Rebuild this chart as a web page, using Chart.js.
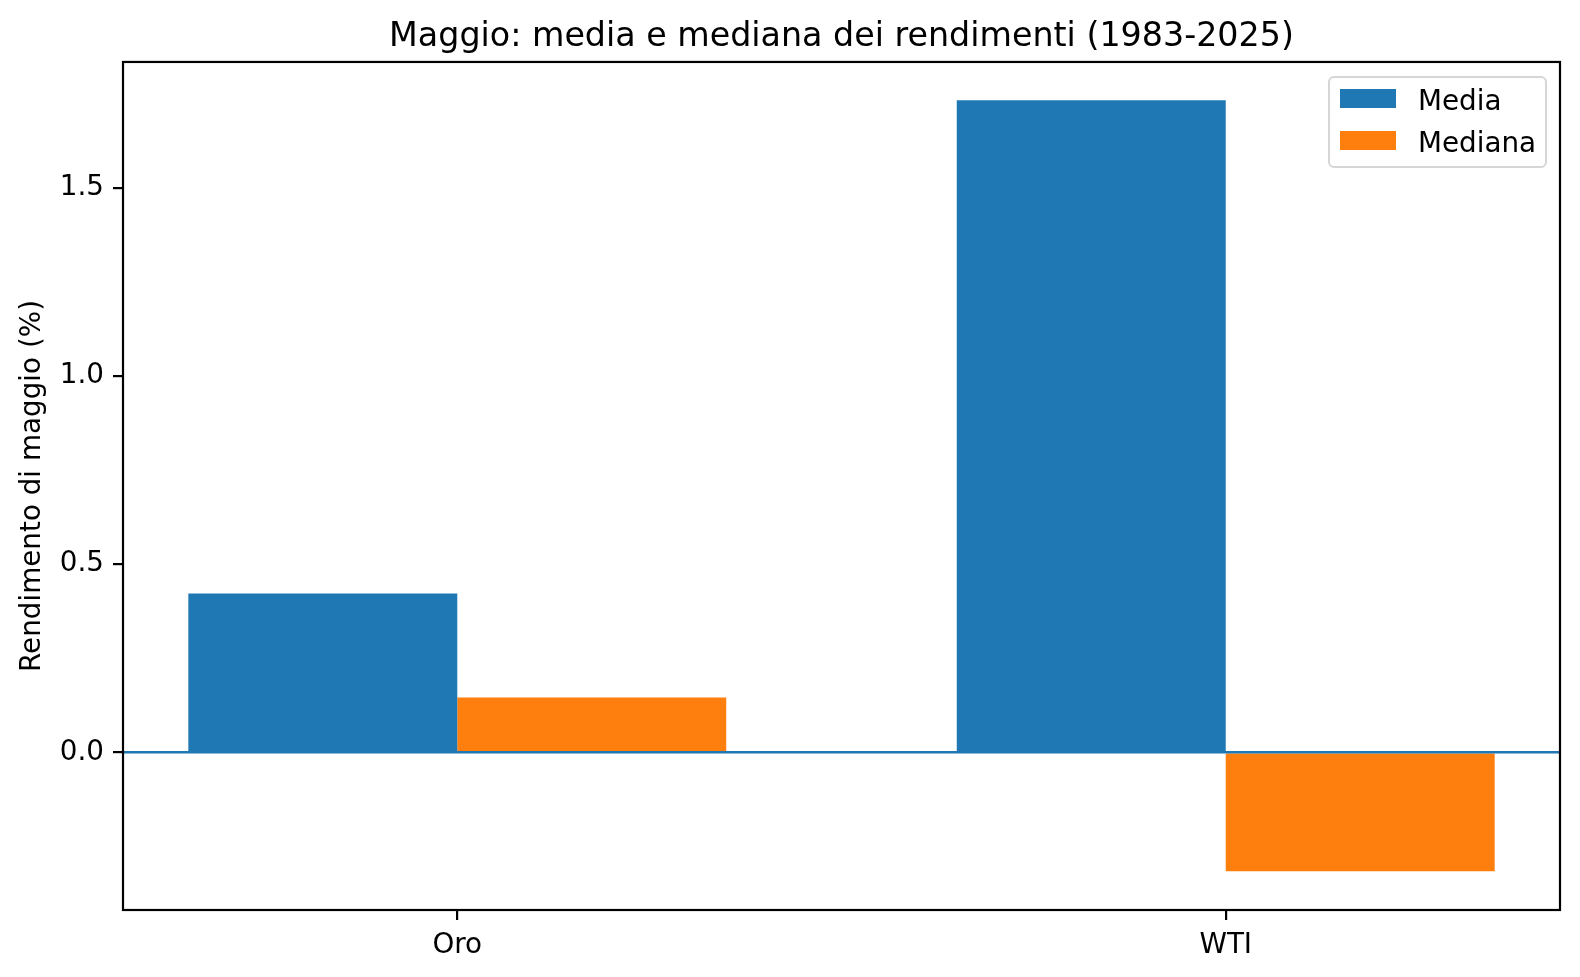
<!DOCTYPE html>
<html>
<head>
<meta charset="utf-8">
<script src="https://cdn.jsdelivr.net/npm/chart.js@4"></script>
<style>
  body { margin: 0; background: #fff; }
  #wrap { position: relative; width: 1580px; height: 977px; }
  #legend {
    position: absolute; left: 1328px; top: 76px; width: 215px; height: 88px;
    border: 2px solid #d6d6d6; border-radius: 6px; background: rgba(255,255,255,0.8);
    font-family: "DejaVu Sans", sans-serif; font-size: 27.8px; color: #000;
  }
  .item { position: absolute; left: 10px; height: 20px; }
  .swatch { position: absolute; left: 0; top: 0; width: 55.6px; height: 19.4px; }
  .label { position: absolute; left: 78px; top: -4px; white-space: nowrap; line-height: 31px; }
</style>
</head>
<body>
<div id="wrap">
  <canvas id="chart"></canvas>
  <div id="legend"></div>
</div>
<script>
const categories = ["Oro", "WTI"];
const media = [0.422, 1.733];
const mediana = [0.146, -0.316];
const seriesNames = ["Media", "Mediana"];
const seriesColors = ["#1f77b4", "#ff7f0e"];
const yTicks = [0, 0.5, 1.0, 1.5];

const FONT = "'DejaVu Sans', sans-serif";

function toPoints(values) {
  return values.map((v, i) => ({ x: i, y: v }));
}

const zeroLine = {
  id: "zeroLine",
  afterDatasetsDraw(chart) {
    const { ctx, chartArea } = chart;
    const y = chart.scales.y.getPixelForValue(0);
    ctx.save();
    ctx.strokeStyle = "#1f77b4";
    ctx.lineWidth = 2.5;
    ctx.beginPath();
    ctx.moveTo(chartArea.left, y);
    ctx.lineTo(chartArea.right, y);
    ctx.stroke();
    ctx.restore();
  },
};

const frame = {
  id: "frame",
  afterDraw(chart) {
    const { ctx, chartArea } = chart;
    ctx.save();
    ctx.strokeStyle = "#000";
    ctx.lineWidth = 2.2;
    ctx.strokeRect(chartArea.left, chartArea.top, chartArea.right - chartArea.left, chartArea.bottom - chartArea.top);
    ctx.restore();
  },
};

const chart = new Chart(document.getElementById("chart"), {
  type: "bar",
  data: {
    datasets: [
      { label: seriesNames[0], data: toPoints(media), backgroundColor: seriesColors[0], borderWidth: 0 },
      { label: seriesNames[1], data: toPoints(mediana), backgroundColor: seriesColors[1], borderWidth: 0 },
    ],
  },
  options: {
    responsive: true,
    maintainAspectRatio: false,
    animation: false,
    categoryPercentage: 0.7,
    barPercentage: 1.0,
    layout: { padding: { left: 0, right: 20, top: 0, bottom: 0 } },
    plugins: {
      legend: { display: false },
      tooltip: { enabled: false },
      title: {
        display: true,
        fullSize: false,
        text: "Maggio: media e mediana dei rendimenti (1983-2025)",
        color: "#000",
        font: { family: FONT, size: 33.3, weight: "normal" },
        padding: { top: 17, bottom: 5 },
      },
    },
    scales: {
      x: {
        type: "linear",
        offset: false,
        min: -0.435,
        max: 1.435,
        afterBuildTicks: (scale) => { scale.ticks = categories.map((c, i) => ({ value: i })); },
        afterFit: (scale) => { scale.height = 67; },
        border: { display: false },
        grid: { offset: false, drawOnChartArea: false, drawTicks: true, tickLength: 10, color: "#000", lineWidth: 2.2 },
        ticks: {
          color: "#000",
          font: { family: FONT, size: 27.8 },
          padding: 9,
          maxRotation: 0,
          autoSkip: false,
          callback: (v) => categories[v] ?? "",
        },
      },
      y: {
        min: -0.419,
        max: 1.835,
        afterBuildTicks: (scale) => { scale.ticks = yTicks.map((v) => ({ value: v })); },
        afterFit: (scale) => { scale.width = 123; },
        border: { display: false },
        grid: { drawOnChartArea: false, drawTicks: true, tickLength: 10, color: "#000", lineWidth: 2.2 },
        ticks: {
          color: "#000",
          font: { family: FONT, size: 27.8 },
          padding: 9,
          callback: (v) => Number(v).toFixed(1),
        },
        title: {
          display: true,
          text: "Rendimento di maggio (%)",
          color: "#000",
          font: { family: FONT, size: 27.8 },
          padding: { top: 16, bottom: 0 },
        },
      },
    },
  },
  plugins: [zeroLine, frame],
});

/* legend */
const legendDiv = document.getElementById("legend");
chart.data.datasets.forEach((ds, i) => {
  const item = document.createElement("div");
  item.className = "item";
  item.style.top = (11 + i * 41.7) + "px";
  item.innerHTML = `<div class="swatch" style="background:${ds.backgroundColor}"></div><div class="label">${ds.label}</div>`;
  legendDiv.appendChild(item);
});
</script>
</body>
</html>
